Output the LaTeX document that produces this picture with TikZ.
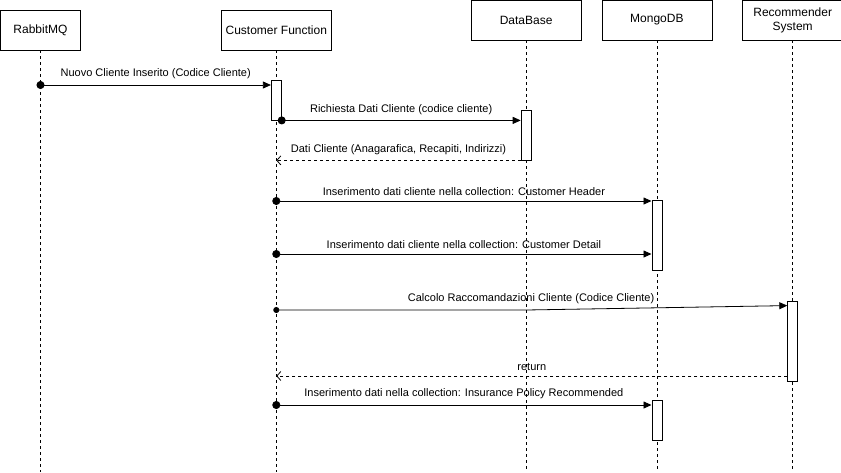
\documentclass[tikz,border=0pt]{standalone}
\usepackage{fontspec}
\setmainfont{Liberation Sans}
\usetikzlibrary{positioning}
\usetikzlibrary{arrows.meta}

\begin{document}
\begin{tikzpicture}
	[
		x = 1pt, y = -1pt,
		myactor/.style = {draw, rectangle, line width = 0.8pt, minimum height = 40pt, minimum width = 110pt, align = center, font = \fontsize{12}{14}\selectfont},
		mylifeline/.style = {dash pattern = on 3pt off 3pt, line width = 0.8pt},
		myactivation/.style = {draw, rectangle, fill = white, line width = 0.8pt, minimum width = 10pt, inner sep = 0pt},
		mycall/.style = {line width = 0.8pt, shorten <= -4pt, {Circle[length = 8pt]}-{Triangle[length = 8pt, width = 7pt]}},
		mysmallcall/.style = {line width = 0.8pt, shorten <= -3pt, {Circle[length = 6pt]}-{Triangle[length = 8pt, width = 7pt]}},
		myreturn/.style = {line width = 0.8pt, dash pattern = on 3pt off 3pt, -{Straight Barb[length = 4pt, width = 9pt]}},
		mylabel/.style = {midway, above = 2pt, font = \fontsize{11}{13}\selectfont}
	]
	\useasboundingbox (0,0) rectangle (841,472);
	%
	\node (rabbit) [myactor, minimum width = 80pt] at (40.5,30) {RabbitMQ};
	\node (custfun) [myactor, right = 140pt of rabbit] {Customer Function};
	\node (db) [myactor, right = 139pt of custfun, yshift = 10pt] {DataBase};
	\node (mongo) [myactor, right = 20pt of db] {MongoDB};
	\node (recsys) [myactor, minimum width = 100pt, right = 30pt of mongo] {Recommender\\System};
	%
	\foreach \actor in {rabbit, custfun, db, mongo, recsys}
		\draw [mylifeline] (\actor.south) -- (\actor |- 0,472);
	%
	\node (cfact) [myactivation, minimum height = 40pt] at (custfun |- 0,100) {};
	\node (dbact) [myactivation, minimum height = 50pt] at (db |- 0,135) {};
	\node (mgactone) [myactivation, minimum height = 70pt] at (mongo |- 0,235) {};
	\node (rsact) [myactivation, minimum height = 80pt] at (recsys |- 0,341) {};
	\node (mgacttwo) [myactivation, minimum height = 40pt] at (mongo |- 0,420) {};
	%
	\coordinate (newclient) at (rabbit |- 0,85);
	\draw [mycall] (newclient) -- (newclient -| cfact.west) node [mylabel] {Nuovo Cliente Inserito (Codice Cliente)};
	%
	\draw [mycall] (cfact.south east) -- (cfact.south east -| dbact.west) node [mylabel] {Richiesta Dati Cliente (codice cliente)};
	%
	\coordinate (clientdata) at (custfun |- dbact.south);
	\draw [myreturn] (dbact.south west) -- (clientdata) node [mylabel] {Dati Cliente (Anagarafica, Recapiti, Indirizzi)};
	%
	\coordinate (header) at (custfun |- 0,201);
	\draw [mycall] (header) -- (header -| mgactone.west) node [mylabel] {Inserimento dati cliente nella collection: Customer Header};
	%
	\coordinate (detail) at (custfun |- 0,254);
	\draw [mycall] (detail) -- (detail -| mgactone.west) node [mylabel] {Inserimento dati cliente nella collection: Customer Detail};
	%
	\coordinate (reccalc) at (custfun |- 0,310);
	\draw [mysmallcall] (reccalc) -- (reccalc -| db) node [mylabel, pos = 1, xshift = 5pt] {Calcolo Raccomandazioni Cliente (Codice Cliente)} -- ([yshift = -5pt]rsact.north west);
	%
	\coordinate (recreturn) at (custfun |- 0,376);
	\draw [myreturn] (rsact.west |- recreturn) -- (recreturn) node [mylabel] {return};
	%
	\coordinate (policy) at (custfun |- 0,405);
	\draw [mycall] (policy) -- (policy -| mgacttwo.west) node [mylabel] {Inserimento dati nella collection: Insurance Policy Recommended};
	%
\end{tikzpicture}
\end{document}
